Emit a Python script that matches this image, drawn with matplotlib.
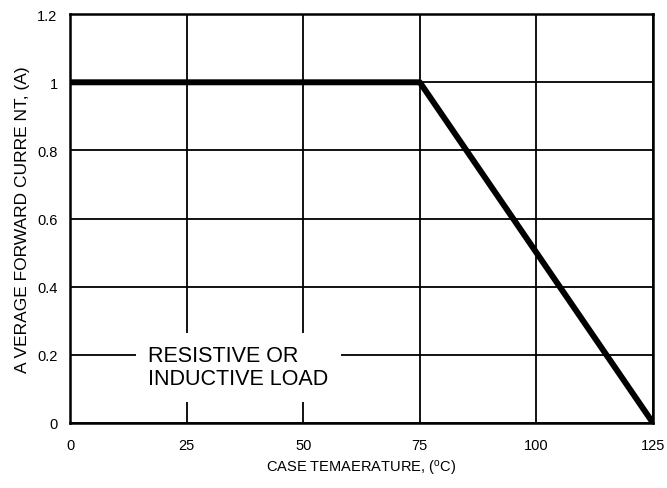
import numpy as np
import matplotlib.pyplot as plt

plt.rcParams['font.family'] = ['Liberation Sans', 'DejaVu Sans']

# derating curve
temp = [0, 75, 125]
current = [1.0, 1.0, 0.0]

xticks = [0, 25, 50, 75, 100, 125]
yticks = [0, 0.2, 0.4, 0.6, 0.8, 1.0, 1.2]
ytick_labels = ['0', '0.2', '0.4', '0.6', '0.8', '1', '1.2']

fig, ax = plt.subplots(figsize=(6.67, 4.89), dpi=100)
fig.subplots_adjust(left=0.105, right=0.979, bottom=0.133, top=0.969)

ax.set_xlim(0, 125)
ax.set_ylim(0, 1.2)
ax.set_xticks(xticks)
ax.set_yticks(yticks)
ax.set_yticklabels(ytick_labels)
ax.tick_params(length=0, labelsize=10.5, pad=9)
ax.tick_params(axis='x', pad=11)

ax.grid(color='black', linewidth=1.3)
ax.set_axisbelow(True)
for s in ax.spines.values():
    s.set_linewidth(1.8)

ax.plot(temp, current, color='black', linewidth=4.3, solid_capstyle='butt', zorder=3)

ax.text(16.8, 0.228, 'RESISTIVE OR\nINDUCTIVE LOAD', fontsize=15.5, va='top', ha='left',
        linespacing=1.12,
        bbox=dict(facecolor='white', edgecolor='none', pad=9), zorder=2)

ax.set_xlabel(r'CASE TEMAERATURE, ($\mathregular{^o}$C)', fontsize=10.5, labelpad=4)
ax.set_ylabel('A VERAGE FORWARD CURRE NT, (A)', fontsize=12.5, labelpad=5)

plt.savefig('out.png', dpi=100)
